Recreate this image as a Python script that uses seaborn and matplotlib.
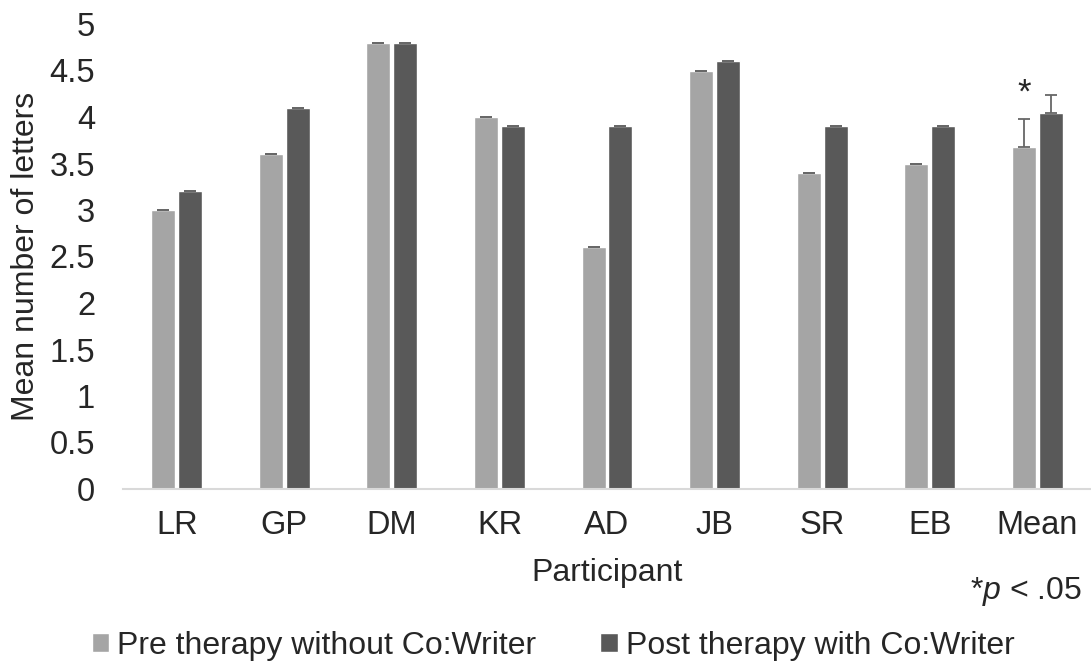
import matplotlib
matplotlib.use("Agg")
import matplotlib.pyplot as plt
import numpy as np
import pandas as pd
import seaborn as sns

# data
participants = ["LR", "GP", "DM", "KR", "AD", "JB", "SR", "EB", "Mean"]
pre_values = [3.0, 3.6, 4.8, 4.0, 2.6, 4.5, 3.4, 3.5, 3.68]
post_values = [3.2, 4.1, 4.8, 3.9, 3.9, 4.6, 3.9, 3.9, 4.04]
pre_err = [0, 0, 0, 0, 0, 0, 0, 0, 0.30]
post_err = [0, 0, 0, 0, 0, 0, 0, 0, 0.20]
series_names = ["Pre therapy without Co:Writer", "Post therapy with Co:Writer"]
y_ticks = [0, 0.5, 1, 1.5, 2, 2.5, 3, 3.5, 4, 4.5, 5]
y_tick_labels = ["0", "0.5", "1", "1.5", "2", "2.5", "3", "3.5", "4", "4.5", "5"]

PRE_COLOR = "#A5A5A5"
POST_COLOR = "#595959"
FS = 23
TICK_FS = 23.5

sns.set_style("white")
plt.rcParams["font.family"] = ["Liberation Sans", "DejaVu Sans"]
plt.rcParams["mathtext.fontset"] = "custom"
plt.rcParams["mathtext.rm"] = "Liberation Sans"
plt.rcParams["mathtext.it"] = "Liberation Sans:italic"

df = pd.DataFrame({
    "Participant": participants * 2,
    "value": pre_values + post_values,
    "series": [series_names[0]] * len(participants) + [series_names[1]] * len(participants),
})

fig = plt.figure(figsize=(10.91, 6.66), dpi=100, facecolor="white")
ax = fig.add_axes([123 / 1091, 1 - 489 / 666, 1 - 123 / 1091, (489 - 24) / 666])

sns.barplot(
    data=df, x="Participant", y="value", hue="series",
    order=participants, hue_order=series_names,
    palette=[PRE_COLOR, POST_COLOR],
    width=0.5, gap=0.11, errorbar=None,
    edgecolor="white", linewidth=1.0,
    ax=ax,
)

# error bars, placed on the bars seaborn drew
n = len(participants)
bars = ax.patches[: 2 * n]
for i, bar in enumerate(bars):
    errs = pre_err if i < n else post_err
    j = i % n
    xc = bar.get_x() + bar.get_width() / 2
    ax.errorbar(xc, bar.get_height(), yerr=[[0], [errs[j]]], fmt="none",
                ecolor="#676767", elinewidth=1.3, capsize=4.2, capthick=1.3)

# significance star over the pre-therapy mean bar
mean_bar = bars[n - 1]
ax.text(mean_bar.get_x() + mean_bar.get_width() / 2,
        pre_values[-1] + pre_err[-1] + 0.1, "*",
        ha="center", va="bottom", fontsize=FS + 2)

ax.set_ylim(0, 5)
ax.set_xlim(-0.5, n - 0.5)
ax.set_yticks(y_ticks)
ax.set_yticklabels(y_tick_labels)
ax.tick_params(axis="y", length=0, pad=20, labelsize=TICK_FS)
ax.tick_params(axis="x", length=0, pad=15, labelsize=TICK_FS)

for side in ["top", "right", "left"]:
    ax.spines[side].set_visible(False)
ax.spines["bottom"].set_color("#D9D9D9")
ax.spines["bottom"].set_linewidth(1.5)

ax.set_xlabel("Participant", fontsize=FS, labelpad=12)
ax.set_ylabel("Mean number of letters", fontsize=FS, labelpad=6)

ax.legend_.remove()
handles, labels = ax.get_legend_handles_labels()
fig.legend(handles, labels, loc="center", bbox_to_anchor=(0.507, 0.030),
           ncol=2, frameon=False, fontsize=FS,
           handlelength=0.54, handleheight=0.54,
           handletextpad=0.25, columnspacing=2.0)

fig.text(1082 / 1091, 1 - 592 / 666, r"*$\mathit{p}$ < .05",
         ha="right", va="center", fontsize=FS)

fig.savefig("out.png", dpi=100, facecolor="white")
plt.close(fig)
